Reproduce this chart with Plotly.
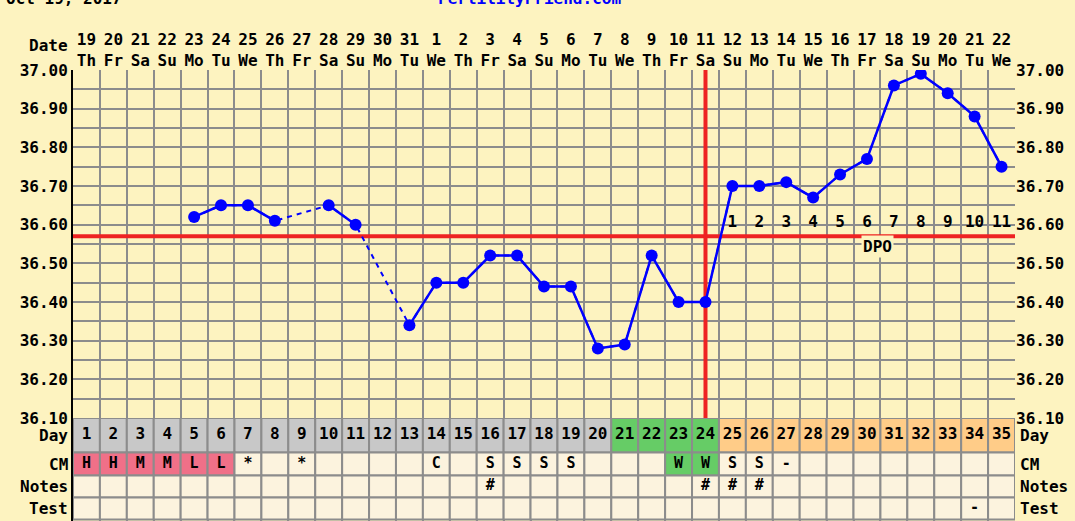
import plotly.graph_objects as go

# cycle data
days = list(range(1, 36))
dates = [19, 20, 21, 22, 23, 24, 25, 26, 27, 28, 29, 30, 31,
         1, 2, 3, 4, 5, 6, 7, 8, 9, 10, 11, 12, 13, 14, 15, 16, 17, 18, 19, 20, 21, 22]
weekdays = ['Th', 'Fr', 'Sa', 'Su', 'Mo', 'Tu', 'We'] * 5
temps = [None, None, None, None, 36.62, 36.65, 36.65, 36.61, None, 36.65,
         36.60, None, 36.34, 36.45, 36.45, 36.52, 36.52, 36.44, 36.44, 36.28,
         36.29, 36.52, 36.40, 36.40, 36.70, 36.70, 36.71, 36.67, 36.73, 36.77,
         36.96, 36.99, 36.94, 36.88, 36.75]
coverline = 36.57
ovulation_day = 24
dpo_days = list(range(25, 36))
dpo_labels = [str(i) for i in range(1, 12)]
cm = ['H', 'H', 'M', 'M', 'L', 'L', '*', '', '*', '', '', '', '', 'C', '', 'S', 'S', 'S', 'S', '',
      '', '', 'W', 'W', 'S', 'S', '-', '', '', '', '', '', '', '', '']
notes = [''] * 15 + ['#'] + [''] * 7 + ['#', '#', '#'] + [''] * 9
test = [''] * 33 + ['-', '']
temp_ticks = [round(36.10 + 0.05 * i, 2) for i in range(19)]

bg = '#FDF3C0'
cream = '#FCF3DE'
grid = '#8C8C8C'
blue = '#0000FF'
red = '#EE2222'
FONT = dict(family='DejaVu Sans Mono', size=16, color='black', weight='bold')

day_colors = ['#C8C8C8'] * 20 + ['#66CC66'] * 4 + ['#FFCC88'] * 11
cm_colors = []
for v in cm:
    if v in ('H', 'M', 'L'):
        cm_colors.append('#F07088')
    elif v == 'W':
        cm_colors.append('#66CC66')
    else:
        cm_colors.append(cream)

fig = go.Figure()

# table rows under the chart (y2 in pixels from the bottom)
rows = [
    ('Day', 68.5, 103, day_colors, [str(d) for d in days]),
    ('CM', 45.5, 68.5, cm_colors, cm),
    ('Notes', 23.5, 45.5, [cream] * 35, notes),
    ('Test', 1.5, 23.5, [cream] * 35, test),
]
for name, lo, hi, colors, labels in rows:
    fig.add_trace(go.Bar(
        x=days, y=[hi - lo] * 35, base=[lo] * 35, width=1,
        marker=dict(color=colors, line=dict(color=grid, width=2)),
        xaxis='x', yaxis='y2', hoverinfo='skip', showlegend=False,
    ))
    fig.add_trace(go.Scatter(
        x=days, y=[(lo + hi) / 2] * 35, mode='text', text=labels,
        textfont=dict(FONT, size=16 if name == 'Day' else 15),
        xaxis='x', yaxis='y2', hoverinfo='skip', showlegend=False,
    ))

# coverline and ovulation line
fig.add_trace(go.Scatter(x=[0.5, 35.5], y=[coverline, coverline], mode='lines',
                         line=dict(color=red, width=4), hoverinfo='skip', showlegend=False))
fig.add_trace(go.Scatter(x=[ovulation_day, ovulation_day], y=[36.10, 37.00], mode='lines',
                         line=dict(color=red, width=4), hoverinfo='skip', showlegend=False))

# temperatures: dashed over gaps, solid elsewhere
fig.add_trace(go.Scatter(x=days, y=temps, mode='lines', connectgaps=True,
                         line=dict(color=blue, width=2, dash='5px,5px'),
                         hoverinfo='skip', showlegend=False))
fig.add_trace(go.Scatter(x=days, y=temps, mode='lines+markers', connectgaps=False,
                         line=dict(color=blue, width=2.5),
                         marker=dict(color=blue, size=12), showlegend=False))

# days past ovulation
fig.add_trace(go.Scatter(x=dpo_days, y=[36.605] * len(dpo_days), mode='text', text=dpo_labels,
                         textfont=FONT, hoverinfo='skip', showlegend=False))

fig.add_annotation(x=30.4, y=36.543, text='DPO', showarrow=False, font=FONT,
                   bgcolor=bg, borderpad=1)

# keep the overlaying axes drawn
fig.add_trace(go.Scatter(x=[None], y=[None], xaxis='x2', yaxis='y', showlegend=False))
fig.add_trace(go.Scatter(x=[None], y=[None], xaxis='x', yaxis='y3', showlegend=False))

split = (521 - 418) / 451
temp_text = [f'{t:.2f}' if i % 2 == 0 else '' for i, t in enumerate(temp_ticks)]

fig.update_layout(
    width=1075, height=521,
    margin=dict(l=73, r=60, t=70, b=0, autoexpand=False),
    paper_bgcolor=bg, plot_bgcolor=bg,
    barmode='overlay',
    font=FONT,
    xaxis=dict(range=[0.5, 35.5], tickvals=[d - 0.5 for d in days] + [35.5],
               showticklabels=False, ticks='', showgrid=True, gridcolor=grid, gridwidth=2,
               zeroline=False, anchor='y'),
    xaxis2=dict(range=[0.5, 35.5], overlaying='x', side='top', anchor='y',
                tickvals=days, ticktext=[f'{d}<br>{w}' for d, w in zip(dates, weekdays)],
                ticks='', showgrid=False, zeroline=False, tickfont=FONT),
    yaxis=dict(domain=[split, 1], range=[36.10, 37.00], tickvals=temp_ticks, ticktext=temp_text,
               showgrid=True, gridcolor=grid, gridwidth=2, zeroline=False,
               showline=True, linecolor='black', linewidth=2, ticks='', tickfont=FONT),
    yaxis3=dict(range=[36.10, 37.00], overlaying='y', side='right', tickvals=temp_ticks,
                ticktext=temp_text, showgrid=False, zeroline=False, ticks='', tickfont=FONT,
                anchor='x'),
    yaxis2=dict(domain=[0, split], range=[0, 103], showgrid=False, zeroline=False,
                showticklabels=False, showline=True, linecolor='black', linewidth=2, anchor='x'),
)

# row labels on both sides
for name, lo, hi, _, _ in rows:
    py = (lo + hi) / 2 / 451
    fig.add_annotation(x=0, y=py, xref='paper', yref='paper', text=name, showarrow=False,
                       xanchor='right', yanchor='middle', xshift=-3, font=FONT)
    fig.add_annotation(x=1, y=py, xref='paper', yref='paper', text=name, showarrow=False,
                       xanchor='left', yanchor='middle', xshift=3, font=FONT)

fig.add_annotation(x=0, y=(521 - 45) / 451, xref='paper', yref='paper', text='Date',
                   showarrow=False, xanchor='right', yanchor='middle', xshift=-3, font=FONT)
fig.add_annotation(x=0, y=(521 + 1) / 451, xref='paper', yref='paper', text='Oct 19, 2017',
                   showarrow=False, xanchor='left', yanchor='middle', xshift=-69, font=FONT)
fig.add_annotation(x=0.485, y=(521 + 1) / 451, xref='paper', yref='paper',
                   text='FertilityFriend.com', showarrow=False, yanchor='middle',
                   font=dict(FONT, color=blue))

fig.write_html("out.html", config={'displayModeBar': False},
               post_script="document.body.style.margin='0';")
